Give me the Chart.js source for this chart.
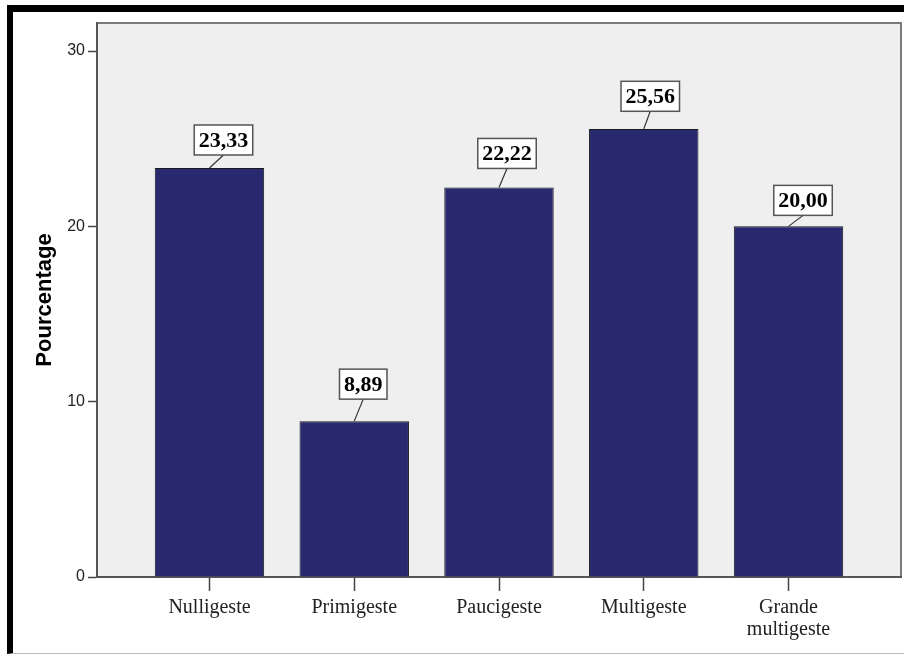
<!DOCTYPE html>
<html><head><meta charset="utf-8">
<script src="https://cdn.jsdelivr.net/npm/chart.js@4.4.1/dist/chart.umd.min.js"></script>
<style>
html,body{margin:0;padding:0;background:#fff;width:904px;height:655px;overflow:hidden;}
#frame{position:absolute;left:7px;top:5px;width:891px;height:641px;border-top:7px solid #000;border-left:6px solid #000;border-bottom:1px solid #bbb;}
#c{position:absolute;left:0;top:0;}
</style></head><body>
<div id="frame"></div>
<canvas id="c" width="904" height="655"></canvas>
<script>
const categories = ['Nulligeste', 'Primigeste', 'Paucigeste', 'Multigeste', ['Grande', 'multigeste']];
const percentages = [23.33, 8.89, 22.22, 25.56, 20.00];
const yTicks = [0, 10, 20, 30];
const yTitle = 'Pourcentage';
// label box placement relative to bar top, in px: [dx, dy]
const labelOffsets = [[14, 13], [9, 22], [8, 19], [6.5, 17.6], [14.5, 11]];

const plotFrame = {
  id: 'plotFrame',
  beforeDraw(chart) {
    const {ctx, chartArea: a} = chart;
    ctx.save();
    ctx.fillStyle = '#EFEFEF';
    ctx.fillRect(a.left, a.top, a.right - a.left, a.bottom - a.top);
    ctx.strokeStyle = '#7a7a7a';
    ctx.lineWidth = 2;
    ctx.beginPath();
    ctx.moveTo(a.left, a.top);
    ctx.lineTo(a.right, a.top);
    ctx.lineTo(a.right, a.bottom);
    ctx.stroke();
    ctx.restore();
  }
};

const valueBoxes = {
  id: 'valueBoxes',
  afterDatasetsDraw(chart) {
    const ctx = chart.ctx;
    const meta = chart.getDatasetMeta(0);
    ctx.save();
    ctx.font = 'bold 22px "Liberation Serif"';
    meta.data.forEach((bar, i) => {
      const txt = percentages[i].toFixed(2).replace('.', ',');
      const [dx, dy] = labelOffsets[i];
      const cx = bar.x + dx, bottom = bar.y - dy;
      const w = ctx.measureText(txt).width + 9, h = 30;
      ctx.strokeStyle = '#333';
      ctx.lineWidth = 1.2;
      ctx.beginPath();
      ctx.moveTo(bar.x, bar.y);
      ctx.lineTo(cx, bottom);
      ctx.stroke();
      ctx.fillStyle = '#fff';
      ctx.fillRect(cx - w / 2, bottom - h, w, h);
      ctx.strokeStyle = '#555';
      ctx.lineWidth = 1.5;
      ctx.strokeRect(cx - w / 2, bottom - h, w, h);
      ctx.fillStyle = '#000';
      ctx.textAlign = 'center';
      ctx.textBaseline = 'middle';
      ctx.fillText(txt, cx, bottom - h / 2 + 1);
    });
    ctx.restore();
  }
};

new Chart(document.getElementById('c'), {
  type: 'bar',
  data: {
    datasets: [{
      data: percentages.map((v, i) => ({x: i, y: v})),
      backgroundColor: '#28296F',
      borderColor: '#1a1a1a',
      borderWidth: 1,
      barPercentage: 0.756,
      categoryPercentage: 1
    }]
  },
  options: {
    responsive: false,
    animation: false,
    devicePixelRatio: 1,
    layout: {padding: {left: 0, top: 23, right: 3, bottom: 0}},
    plugins: {legend: {display: false}, tooltip: {enabled: false}},
    scales: {
      x: {
        type: 'linear',
        offset: false,
        min: -0.777,
        max: 4.777,
        afterBuildTicks: s => { s.ticks = categories.map((c, i) => ({value: i})); },
        afterFit: s => { s.height = 78; },
        border: {display: true, color: '#555', width: 2},
        grid: {offset: false, drawOnChartArea: false, drawTicks: true, tickLength: 14, color: '#444', tickWidth: 1.5},
        ticks: {
          autoSkip: false, maxRotation: 0, minRotation: 0, padding: 6, color: '#222',
          font: {family: 'Liberation Serif', size: 20, lineHeight: 1.1},
          callback: v => categories[v]
        }
      },
      y: {
        min: 0,
        max: 31.6,
        afterBuildTicks: s => { s.ticks = yTicks.map(v => ({value: v})); },
        afterFit: s => { s.width = 97; },
        border: {display: true, color: '#555', width: 2},
        grid: {drawOnChartArea: false, drawTicks: true, tickLength: 9, color: '#444', tickWidth: 1.5},
        ticks: {padding: 3, color: '#222', font: {family: 'Liberation Sans', size: 16}},
        title: {
          display: true, text: yTitle, color: '#000',
          font: {family: 'Liberation Sans', size: 22, weight: 'bold', lineHeight: 1},
          padding: {top: 34, bottom: 0}
        }
      }
    }
  },
  plugins: [plotFrame, valueBoxes]
});
</script>
</body></html>
